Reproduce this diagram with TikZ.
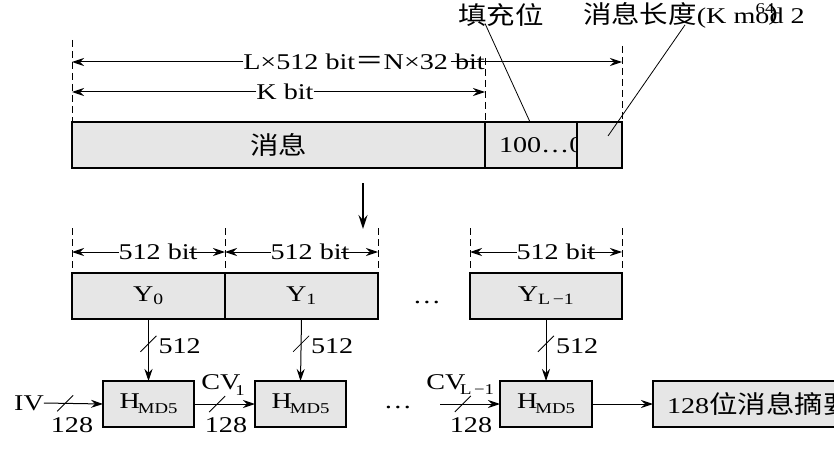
\documentclass[tikz,border=0pt]{standalone}
\usepackage{fontspec}
\setmainfont{Liberation Serif}[FakeStretch=1.25]
\newfontfamily\cjk{Noto Sans CJK SC}[FakeStretch=1.15,Scale=1.1]
\usetikzlibrary{arrows.meta}
\definecolor{boxfill}{HTML}{E6E6E6}
\begin{document}
\begin{tikzpicture}[x=1pt,y=-1pt,
  every node/.style={inner sep=0pt,outer sep=0pt,font=\fontsize{22.5}{25}\selectfont},
  cell/.style={draw,line width=2pt,fill=boxfill,anchor=north west},
  dim/.style={line width=0.9pt,dash pattern=on 7pt off 4pt},
  arr/.style={line width=1pt,-{Stealth[length=12pt,width=8pt,inset=4pt]}},
  thin/.style={line width=0.8pt},
  sub/.style={font=\fontsize{15}{15}\selectfont}]
\useasboundingbox (0,0) rectangle (834,457);
% ---------- top row ----------
\node[cell,minimum width=413pt,minimum height=46pt] (msg) at (72,122) {\cjk 消息};
\node[cell,minimum width=92pt,minimum height=46pt] (pad) at (485,122) {};
\node[anchor=west] (padtxt) at (499,145) {100\ldots0};
\node[cell,minimum width=45pt,minimum height=46pt] (lenc) at (577,122) {};
% dashed guides
\coordinate (g1) at (72,40);
\coordinate (g2) at (485,58);
\coordinate (g3) at (622,46);
\draw[dim] (g1) -- (msg.north west);
\draw[dim] (g2) -- (pad.north west);
\draw[dim] (g3) -- (lenc.north east);
% dimension arrows
\node (ltxt) at (364,62) {L×512 bit{\cjk ＝}N×32 bit};
\draw[arr] (ltxt.west) -- (g1 |- ltxt.west);
\draw[arr] ([xshift=-34pt]ltxt.east) -- (g3 |- ltxt.east);
\node (ktxt) at (285,92) {K bit};
\draw[arr] (ktxt.west) -- (g1 |- ktxt.west);
\draw[arr] (ktxt.east) -- (g2 |- ktxt.east);
% labels top right
\node (tcw) at (501,15) {\cjk 填充位};
\draw[thin] ([xshift=-16pt,yshift=3pt]tcw.south) -- ([xshift=-1pt]pad.north);
\node[anchor=west] (lenlbl) at (583,15) {{\cjk 消息长度}(K mod 2};
\node[sub] (l64) at (765,9) {64};
\node (lpar) at (773,15) {)};
\coordinate (lend) at (608,136);
\draw[thin] ([xshift=102pt,yshift=3pt]lenlbl.south west) -- (lend);
% big down arrow
\coordinate (d1) at (363,183);
\coordinate (d2) at (363,229);
\draw[line width=2.2pt,-{Stealth[length=14pt,width=9pt,inset=5pt]}] (d1) -- (d2);
% ---------- second row ----------
\node[cell,minimum width=153pt,minimum height=46pt] (Y0) at (72,273) {Y\textsubscript{0}};
\node[cell,minimum width=153pt,minimum height=46pt] (Y1) at (225,273) {Y\textsubscript{1}};
\node[cell,minimum width=152pt,minimum height=46pt] (YL) at (470,273) {Y\textsubscript{L\,−1}};
\node (dots1) at (427,302) {\ldots};
\foreach \n/\c in {a/72,b/225,c/378,d/470,e/622}{\coordinate (h\n) at (\c,228);}
\draw[dim] (ha) -- (Y0.north west);
\draw[dim] (hb) -- (Y0.north east);
\draw[dim] (hc) -- (Y1.north east);
\draw[dim] (hd) -- (YL.north west);
\draw[dim] (he) -- (YL.north east);
\node (b0) at (158,252) {512 bit};
\draw[arr] (b0.west) -- (ha |- b0.west);
\draw[arr] ([xshift=-8pt]b0.east) -- (hb |- b0.east);
\node (b1) at (310,252) {512 bit};
\draw[arr] (b1.west) -- (hb |- b1.west);
\draw[arr] ([xshift=-8pt]b1.east) -- (hc |- b1.east);
\node (b2) at (556,252) {512 bit};
\draw[arr] (b2.west) -- (hd |- b2.west);
\draw[arr] ([xshift=-8pt]b2.east) -- (he |- b2.east);
% ---------- third row ----------
\node[cell,minimum width=91pt,minimum height=46pt] (H1) at (103,381) {H\kern-2pt\raisebox{-5pt}{\fontsize{15}{15}\selectfont MD5}};
\node[cell,minimum width=91pt,minimum height=46pt] (H2) at (255,381) {H\kern-2pt\raisebox{-5pt}{\fontsize{15}{15}\selectfont MD5}};
\node[cell,minimum width=92pt,minimum height=46pt] (H3) at (500,381) {H\kern-2pt\raisebox{-5pt}{\fontsize{15}{15}\selectfont MD5}};
\node[cell,minimum width=200pt,minimum height=46pt] (out) at (653,381) {};
\node[anchor=west] (outtxt) at (667,404) {128{\cjk 位消息摘要}};
% vertical arrows with slash
\foreach \a/\b/\s in {Y0/H1/s1,Y1/H2/s2,YL/H3/s3}{
  \draw[arr] (\a.south) -- coordinate[pos=0.4] (\s) (\b.north);
  \draw[thin] ([shift={(-8,8)}]\s) -- ([shift={(8,-8)}]\s);
  \node[anchor=west] at ([xshift=10pt,yshift=-2pt]\s) {512};
}
% horizontal arrows
\node (iv) at (29,403) {IV};
\draw[arr] (iv.east) -- coordinate[pos=0.36] (t1) (H1.west);
\draw[arr] (H1.east) -- coordinate[pos=0.38] (t2) (H2.west);
\coordinate (cvs) at (440,404);
\draw[arr] (cvs) -- coordinate[pos=0.38] (t3) (H3.west);
\draw[arr] (H3.east) -- (out.west);
\foreach \t in {t1,t2,t3}{\draw[thin] ([shift={(-8,8)}]\t) -- ([shift={(8,-8)}]\t);}
\node (n1) at (72,425) {128};
\node (n2) at (226,425) {128};
\node (n3) at (471,425) {128};
\node (cv1) at (221,382) {CV};
\node[sub] (cv1s) at (240,391) {1};
\node (cvl) at (446,382) {CV};
\node[sub] (cvls) at (477,390) {L\,−1};
\node (dots2) at (398,407) {\ldots};
\end{tikzpicture}
\end{document}
